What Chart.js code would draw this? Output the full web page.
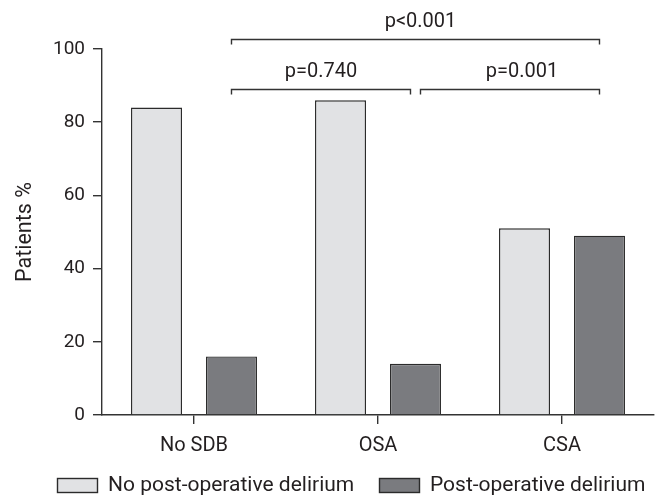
<!DOCTYPE html>
<html>
<head>
<meta charset="utf-8">
<script src="https://cdn.jsdelivr.net/npm/chart.js@4/dist/chart.umd.min.js"></script>
<style>
  html, body { margin: 0; padding: 0; background: #ffffff; }
  #wrap { width: 666px; height: 498px; }
</style>
</head>
<body>
<div id="wrap"><canvas id="c" width="666" height="498"></canvas></div>
<script>
// Sleep-disordered breathing groups
const categories = ['No SDB', 'OSA', 'CSA'];
// Percentage of patients in each group
const noDelirium = [84, 86, 51];
const delirium = [16, 14, 49];
const seriesLabels = ['No post-operative delirium', 'Post-operative delirium'];
const yTicks = [0, 20, 40, 60, 80, 100];

// Pairwise comparisons of the delirium rates (indices into categories)
const comparisons = [
  { from: 0, to: 2, level: 102.7, text: 'p<0.001', dx: 5 },
  { from: 0, to: 1, level: 89, text: 'p=0.740', dx: 0 },
  { from: 1, to: 2, level: 89, text: 'p=0.001', dx: 12 }
];

const INK = '#231f20';
const FONT = 'Roboto, "Liberation Sans", sans-serif';
const LIGHT = '#e1e2e4';
const DARK = '#7a7b7f';
const EDGE = '#2b2b2b';

// Brackets with p-values above the delirium bars
const bracketPlugin = {
  id: 'brackets',
  afterDatasetsDraw(chart) {
    const ctx = chart.ctx;
    const y = chart.scales.y;
    const bars = chart.getDatasetMeta(1).data;
    const gap = 5, drop = 5;
    ctx.save();
    ctx.strokeStyle = '#333333';
    ctx.lineWidth = 1.4;
    ctx.fillStyle = INK;
    ctx.font = '20px ' + FONT;
    ctx.textAlign = 'center';
    ctx.textBaseline = 'alphabetic';
    comparisons.forEach(c => {
      let x1 = bars[c.from].x;
      let x2 = bars[c.to].x;
      // leave a small gap where two brackets on the same level meet
      if (comparisons.some(o => o !== c && o.level === c.level && o.from === c.to)) x2 -= gap;
      if (comparisons.some(o => o !== c && o.level === c.level && o.to === c.from)) x1 += gap;
      const py = Math.round(y.getPixelForValue(c.level)) + 0.5;
      ctx.beginPath();
      ctx.moveTo(x1, py + drop);
      ctx.lineTo(x1, py);
      ctx.lineTo(x2, py);
      ctx.lineTo(x2, py + drop);
      ctx.stroke();
      ctx.fillText(c.text, (x1 + x2) / 2 + c.dx, py - 13);
    });
    ctx.restore();
  }
};

// Legend row below the category labels
const legendPlugin = {
  id: 'legendRow',
  afterDraw(chart) {
    const ctx = chart.ctx;
    const items = [
      { x: 57, ds: chart.data.datasets[0] },
      { x: 379, ds: chart.data.datasets[1] }
    ];
    ctx.save();
    ctx.font = '21px ' + FONT;
    ctx.textAlign = 'left';
    ctx.textBaseline = 'middle';
    items.forEach(it => {
      ctx.fillStyle = it.ds.backgroundColor;
      ctx.fillRect(it.x, 478, 41, 15);
      ctx.strokeStyle = EDGE;
      ctx.lineWidth = 1.4;
      ctx.strokeRect(it.x + 0.5, 478.5, 40, 14);
      ctx.fillStyle = INK;
      ctx.fillText(it.ds.label, it.x + 51, 486);
    });
    ctx.restore();
  }
};

new Chart(document.getElementById('c'), {
  type: 'bar',
  data: {
    labels: categories,
    datasets: [
      {
        label: seriesLabels[0],
        data: noDelirium,
        backgroundColor: LIGHT,
        borderColor: EDGE,
        borderWidth: 1.4,
        categoryPercentage: 0.815,
        barPercentage: 0.68
      },
      {
        label: seriesLabels[1],
        data: delirium,
        backgroundColor: DARK,
        borderColor: EDGE,
        borderWidth: 1.4,
        categoryPercentage: 0.815,
        barPercentage: 0.68
      }
    ]
  },
  options: {
    responsive: false,
    animation: false,
    devicePixelRatio: 1,
    layout: { padding: { top: 49, right: 12, bottom: 0, left: 0 } },
    plugins: {
      legend: { display: false },
      tooltip: { enabled: false }
    },
    scales: {
      x: {
        offset: true,
        grid: {
          offset: false,
          drawOnChartArea: false,
          drawTicks: true,
          tickLength: 9,
          color: '#333333',
          lineWidth: 1.4
        },
        border: { display: true, color: '#333333', width: 1.4 },
        ticks: {
          color: INK,
          font: { family: FONT, size: 20 },
          padding: 10,
          maxRotation: 0
        },
        afterFit(scale) { scale.height = 83; }
      },
      y: {
        min: 0,
        max: 100,
        afterBuildTicks(scale) { scale.ticks = yTicks.map(v => ({ value: v })); },
        grid: {
          drawOnChartArea: false,
          drawTicks: true,
          tickLength: 9,
          color: '#333333',
          lineWidth: 1.4
        },
        border: { display: true, color: '#333333', width: 1.4 },
        ticks: {
          color: INK,
          font: { family: FONT, size: 19 },
          padding: 8
        },
        title: {
          display: true,
          text: 'Patients %',
          color: INK,
          font: { family: FONT, size: 21.5 },
          padding: { top: 13, bottom: 0 }
        },
        afterFit(scale) { scale.width = 102; }
      }
    }
  },
  plugins: [bracketPlugin, legendPlugin]
});
</script>
</body>
</html>
